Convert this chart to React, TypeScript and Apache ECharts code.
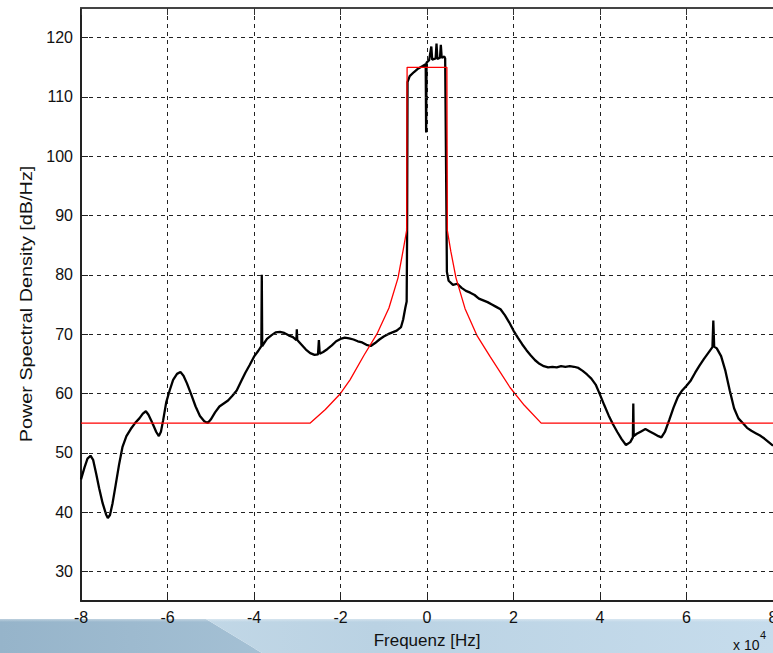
import React, { useEffect, useRef } from "react";
import * as echarts from "echarts";

// Frequency in units of 1e4 Hz
const psdX = [
  -8.0, -7.92, -7.85, -7.78, -7.72, -7.65, -7.58, -7.5, -7.42, -7.38, -7.33, -7.27, -7.2, -7.12, -7.04,
  -6.95, -6.85, -6.75, -6.65, -6.57, -6.5, -6.44, -6.38, -6.32, -6.26, -6.2, -6.15, -6.1, -6.03, -5.95,
  -5.87, -5.78, -5.7, -5.63, -5.55, -5.45, -5.35, -5.25, -5.15, -5.07, -5.0, -4.9, -4.8, -4.7, -4.6,
  -4.5, -4.4, -4.3, -4.2, -4.1, -4.0, -3.9, -3.83, -3.82, -3.81, -3.7, -3.6, -3.5, -3.4, -3.3,
  -3.2, -3.1, -3.02, -3.01, -3.0, -2.9, -2.8, -2.7, -2.6, -2.52, -2.5, -2.48, -2.4, -2.3, -2.2,
  -2.1, -2.0, -1.9, -1.8, -1.7, -1.6, -1.5, -1.4, -1.3, -1.2, -1.1, -1.0, -0.9, -0.8, -0.7,
  -0.6, -0.55, -0.5, -0.47, -0.46, -0.455, -0.45, -0.4, -0.3, -0.2, -0.1, -0.03, -0.02, -0.01, 0.05,
  0.1, 0.12, 0.2, 0.22, 0.24, 0.3, 0.32, 0.34, 0.4, 0.42, 0.45, 0.46, 0.5, 0.6, 0.7,
  0.8, 0.9, 1.0, 1.1, 1.2, 1.3, 1.4, 1.5, 1.6, 1.7, 1.8, 1.9, 2.0, 2.1, 2.2,
  2.3, 2.4, 2.5, 2.6, 2.7, 2.8, 2.9, 3.0, 3.1, 3.2, 3.3, 3.4, 3.5, 3.6, 3.7,
  3.8, 3.9, 4.0, 4.1, 4.2, 4.3, 4.4, 4.5, 4.6, 4.7, 4.76, 4.77, 4.78, 4.85, 4.95,
  5.05, 5.15, 5.25, 5.35, 5.42, 5.5, 5.6, 5.7, 5.8, 5.9, 6.0, 6.1, 6.2, 6.3, 6.4,
  6.5, 6.6, 6.62, 6.64, 6.7, 6.8, 6.9, 7.0, 7.1, 7.2, 7.3, 7.4, 7.5, 7.6, 7.7,
  7.8, 7.9, 8.0,
];
const psdY = [
  45.5, 47.5, 49.0, 49.5, 48.8, 46.5, 44.0, 41.5, 39.6, 39.0, 39.5, 41.5, 44.5, 48.0, 51.0,
  52.8, 54.0, 55.0, 55.8, 56.6, 57.0, 56.4, 55.5, 54.5, 53.5, 52.8, 53.6, 55.5, 58.5, 60.5,
  62.3, 63.3, 63.6, 63.0, 61.7, 59.8, 57.8, 56.2, 55.3, 55.0, 55.6, 56.8, 57.8, 58.3, 58.8,
  59.6, 60.5, 62.0, 63.5, 64.8, 66.2, 67.2, 68.0, 80.0, 68.0, 69.2, 69.8, 70.3, 70.4, 70.2,
  69.8, 69.5, 69.0, 70.8, 69.0, 68.2, 67.4, 66.8, 66.5, 66.6, 69.0, 66.7, 67.0, 67.5, 68.1,
  68.8, 69.2, 69.4, 69.3, 69.1, 68.8, 68.6, 68.2, 68.0, 68.5, 69.1, 69.6, 70.0, 70.3, 70.6,
  71.2, 72.5, 74.5, 75.5, 87.0, 100.0, 112.5, 113.5, 114.2, 114.8, 115.2, 115.5, 104.0, 115.8, 116.2,
  118.5, 116.3, 116.5, 119.0, 116.4, 116.6, 118.8, 116.6, 116.8, 116.5, 90.0, 80.5, 79.0, 78.3, 78.5,
  77.8, 77.3, 77.0, 76.6, 76.0, 75.7, 75.4, 75.0, 74.6, 74.2, 73.2, 72.0, 70.6, 69.4, 68.3,
  67.3, 66.4, 65.6, 65.0, 64.6, 64.4, 64.5, 64.4, 64.6, 64.5, 64.6, 64.5, 64.3, 63.8, 63.2,
  62.5, 61.5, 59.8, 58.0, 56.3, 54.8, 53.5, 52.3, 51.3, 51.8, 52.6, 58.3, 52.8, 53.2, 53.6,
  54.0, 53.6, 53.2, 52.8, 52.6, 53.5, 55.5, 57.6, 59.4, 60.5, 61.3, 62.2, 63.5, 64.7, 65.8,
  66.8, 67.8, 72.3, 67.9, 67.6, 66.3, 63.8, 60.5, 57.5, 55.8, 55.0, 54.2, 53.7, 53.3, 52.9,
  52.4, 51.8, 51.2,
];

const maskX = [
  -8, -2.7, -2.35, -2.0, -1.78, -1.46, -1.16, -0.88, -0.67, -0.55, -0.47, -0.46,
  0.46, 0.47, 0.55, 0.67, 0.88, 1.16, 1.46, 1.92, 2.25, 2.64, 8,
];
const maskY = [
  55, 55, 57.3, 60.0, 62.3, 66.4, 70.0, 74.4, 79.5, 84.2, 87.5, 115,
  115, 87.5, 84.0, 79.5, 74.3, 69.7, 66.2, 61.0, 58.0, 55, 55,
];

const yTickValues = [30, 40, 50, 60, 70, 80, 90, 100, 110, 120];
const xLabelText = "Frequenz [Hz]";
const yLabelText = "Power Spectral Density [dB/Hz]";

export default function App() {
  const ref = useRef<HTMLDivElement>(null);
  useEffect(() => {
    document.body.style.margin = "0";
    const chart = echarts.init(ref.current as HTMLDivElement, null, { renderer: "svg" });
    const font = "'Liberation Sans', Arial, Helvetica, sans-serif";
    const gridLine = { color: "#222", type: [4, 4] as any, width: 1 };
    chart.setOption({
      animation: false,
      backgroundColor: "#ffffff",
      grid: { left: 81, top: 8, right: 0, bottom: 52, containLabel: false, outerBoundsMode: "none" },
      xAxis: [
        {
          type: "value", min: -8, max: 8, interval: 2, position: "bottom",
          axisLine: { show: true, onZero: false, lineStyle: { color: "#222", width: 2 } },
          axisTick: { show: true, inside: true, length: 7, lineStyle: { color: "#222", width: 1 } },
          axisLabel: { color: "#111", fontSize: 16, fontFamily: font, margin: 8 },
          splitLine: { show: true, lineStyle: gridLine },
        },
        {
          type: "value", min: -8, max: 8, interval: 2, position: "top",
          axisLine: { show: true, onZero: false, lineStyle: { color: "#444", width: 2 } },
          axisTick: { show: true, inside: true, length: 7, lineStyle: { color: "#333" } },
          axisLabel: { show: false },
          splitLine: { show: false },
        },
      ],
      yAxis: [
        {
          type: "value", min: 25, max: 125, position: "left",
          axisLine: { show: true, onZero: false, lineStyle: { color: "#222", width: 2 } },
          axisTick: { show: true, inside: true, length: 7, customValues: yTickValues, lineStyle: { color: "#222" } },
          axisLabel: { customValues: yTickValues, color: "#111", fontSize: 16, fontFamily: font, margin: 8 },
          splitLine: { show: false },
        },
        {
          type: "value", min: 25, max: 125, position: "right",
          axisLine: { show: true, onZero: false, lineStyle: { color: "#bbb", width: 1 } },
          axisTick: { show: false },
          axisLabel: { show: false },
          splitLine: { show: false },
        },
      ],
      series: [
        {
          type: "line", name: "grid", data: [], z: 1, silent: true,
          markLine: {
            silent: true, symbol: "none", animation: false,
            label: { show: false },
            emphasis: { disabled: true },
            lineStyle: gridLine,
            data: yTickValues.map((v) => ({ yAxis: v })),
          },
        },
        {
          type: "line", name: "PSD", data: psdX.map((x, i) => [x, psdY[i]]),
          symbol: "none", showSymbol: false, z: 3,
          lineStyle: { color: "#000", width: 2.3 },
        },
        {
          type: "line", name: "Mask", data: maskX.map((x, i) => [x, maskY[i]]),
          symbol: "none", showSymbol: false, z: 4,
          lineStyle: { color: "#ff0000", width: 1.3 },
        },
      ],
      graphic: [
        {
          type: "polygon", z: -10, silent: true,
          shape: { points: [[0, 619], [206, 619], [262, 653], [0, 653]] },
          style: {
            fill: new echarts.graphic.LinearGradient(0, 0, 1, 0, [
              { offset: 0, color: "#96b4ca" },
              { offset: 1, color: "#a4c0d4" },
            ]),
          },
        },
        {
          type: "polygon", z: -10, silent: true,
          shape: { points: [[206, 619], [773, 619], [773, 653], [262, 653]] },
          style: {
            fill: new echarts.graphic.LinearGradient(0, 0, 1, 0, [
              { offset: 0, color: "#c1d7e6" },
              { offset: 0.3, color: "#bad2e3" },
              { offset: 1, color: "#c6dcec" },
            ]),
          },
        },
        {
          type: "rect", z: -9, silent: true,
          shape: { x: 0, y: 614, width: 773, height: 8 },
          style: {
            fill: new echarts.graphic.LinearGradient(0, 0, 0, 1, [
              { offset: 0, color: "rgba(255,255,255,1)" },
              { offset: 1, color: "rgba(255,255,255,0)" },
            ]),
          },
        },
        {
          type: "text", x: 27, y: 304, rotation: Math.PI / 2, scaleX: 1.24,
          style: {
            text: yLabelText, fontSize: 16, fontFamily: font, fill: "#111",
            align: "center", verticalAlign: "middle",
            textAlign: "center", textVerticalAlign: "middle",
          },
        },
        {
          type: "text", x: 427, y: 640,
          style: {
            text: xLabelText, fontSize: 17, fontFamily: font, fill: "#111",
            align: "center", verticalAlign: "middle",
            textAlign: "center", textVerticalAlign: "middle",
          },
        },
        {
          type: "text", x: 733, y: 638,
          style: { text: "x 10", fontSize: 14, fontFamily: font, fill: "#111", align: "left", verticalAlign: "top" },
        },
        {
          type: "text", x: 760, y: 629,
          style: { text: "4", fontSize: 11, fontFamily: font, fill: "#111", align: "left", verticalAlign: "top" },
        },
      ],
    });
    return () => chart.dispose();
  }, []);
  return <div ref={ref} style={{ width: 773, height: 653 }} />;
}
